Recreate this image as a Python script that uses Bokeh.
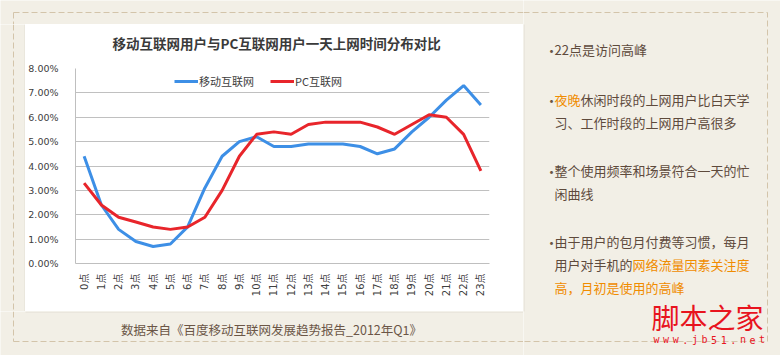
import math
from bokeh.plotting import figure
from bokeh.layouts import row, column
from bokeh.models import (Range1d, FixedTicker, NumeralTickFormatter, Legend, LegendItem)
from bokeh.core.properties import value
from bokeh.embed import file_html
from bokeh.resources import INLINE

# ---------------- data ----------------
hours = ["0点", "1点", "2点", "3点", "4点", "5点", "6点", "7点", "8点", "9点", "10点", "11点",
         "12点", "13点", "14点", "15点", "16点", "17点", "18点", "19点", "20点", "21点", "22点", "23点"]
mobile = [0.044, 0.024, 0.014, 0.009, 0.007, 0.008, 0.015, 0.031, 0.044, 0.050, 0.052, 0.048,
          0.048, 0.049, 0.049, 0.049, 0.048, 0.045, 0.047, 0.054, 0.060, 0.067, 0.073, 0.065]
pc = [0.033, 0.024, 0.019, 0.017, 0.015, 0.014, 0.015, 0.019, 0.030, 0.044, 0.053, 0.054,
      0.053, 0.057, 0.058, 0.058, 0.058, 0.056, 0.053, 0.057, 0.061, 0.060, 0.053, 0.038]
y_ticks = [0.0, 0.01, 0.02, 0.03, 0.04, 0.05, 0.06, 0.07, 0.08]
series_names = ["移动互联网", "PC互联网"]
title_text = "移动互联网用户与PC互联网用户一天上网时间分布对比"
source_text = "数据来自《百度移动互联网发展趋势报告_2012年Q1》"
watermark_text = "脚本之家"
watermark_url = "www.jb51.net"

BROWN = "#5e4a3c"
ORANGE = "#f08c00"
notes = [
    (49, [("22点是访问高峰", BROWN)], True),
    (99, [("夜晚", ORANGE), ("休闲时段的上网用户比白天学", BROWN)], True),
    (122, [("习、工作时段的上网用户高很多", BROWN)], False),
    (170, [("整个使用频率和场景符合一天的忙", BROWN)], True),
    (193, [("闲曲线", BROWN)], False),
    (241, [("由于用户的包月付费等习惯，每月", BROWN)], True),
    (264, [("用户对手机的", BROWN), ("网络流量因素关注度", ORANGE)], False),
    (287, [("高，月初是使用的高峰", ORANGE)], False),
]

CJK = "Noto Sans CJK SC"
BLUE = "#3d8fe6"
RED = "#e8252b"
BEIGE = "#f2efe6"
DASH = "#d3c4aa"
WM_RED = "#e8141e"

pos = list(range(len(hours)))  # category slots


def deco(x0, x1, y0, y1, fill=BEIGE):
    """A plain figure whose frame covers the whole canvas, in page pixel coordinates."""
    f = figure(width=x1 - x0, height=y1 - y0, output_backend="svg", toolbar_location=None,
               x_range=Range1d(x0, x1), y_range=Range1d(start=y1, end=y0),
               x_axis_location=None, y_axis_location=None, title=None)
    f.min_border = 0
    f.min_border_left = 0
    f.min_border_right = 0
    f.min_border_top = 0
    f.min_border_bottom = 0
    f.grid.visible = False
    f.outline_line_color = None
    f.background_fill_color = fill
    f.border_fill_color = fill
    return f


def dashed(f, xs, ys):
    f.line(xs, ys, line_color=DASH, line_width=1, line_dash="6 3")


def txt(f, x, y, s, color, size="13px", align="left", font=CJK, style="normal"):
    f.text(x=[x], y=[y], text=[s], text_color=color, text_font=value(font),
           text_font_size=value(size), text_align=align, text_baseline="middle",
           text_font_style=style)


# ---------------- decoration pieces ----------------
top_left = deco(0, 523, 0, 24)
dashed(top_left, [13, 523], [12, 12])
dashed(top_left, [13, 13], [12, 24])

left_strip = deco(0, 25, 24, 311)
dashed(left_strip, [13, 13], [24, 311])
left_strip.line([24.5, 24.5], [24, 311], line_color="#e2ded4", line_width=1)

title_fig = deco(25, 523, 24, 58, fill="white")
txt(title_fig, 267, 42, title_text, "#3a3a3a", size="13.5px", align="center", style="bold")

bottom_left = deco(0, 523, 311, 355)
dashed(bottom_left, [13, 13], [311, 341])
dashed(bottom_left, [13, 523], [341, 341])
bottom_left.line([25, 523], [311.5, 311.5], line_color="#e2ded4", line_width=1)
txt(bottom_left, 271, 329, source_text, "#6b5646", size="12.5px", align="center")

right_fig = deco(523, 780, 0, 355)
dashed(right_fig, [523, 767, 767, 523], [12, 12, 341, 341])
right_fig.line([523.5, 523.5], [24, 311], line_color="#e2ded4", line_width=1)
for ypos, segs, bullet in notes:
    if bullet:
        txt(right_fig, 544, ypos, "•", "#6b5646", size="14px")
    xpos = 554
    for s, col in segs:
        txt(right_fig, xpos, ypos, s, col)
        xpos += 13 * len(s)
txt(right_fig, 707, 316, watermark_text, WM_RED, size="28px", align="center")
for k, ch in enumerate(watermark_url):
    txt(right_fig, 656 + k * 9.6, 339, ch, WM_RED, size="10px", align="center",
        font="DejaVu Sans Mono")

# ---------------- chart ----------------
p = figure(width=498, height=253, output_backend="svg", toolbar_location=None,
           x_range=Range1d(-0.5, len(hours) - 0.5), y_range=Range1d(0, 0.08), title=None)
p.min_border_left = 48
p.min_border_right = 34
p.min_border_top = 10
p.min_border_bottom = 48
p.border_fill_color = "white"
p.background_fill_color = "white"
p.outline_line_color = None

r1 = p.line(pos, mobile, line_color=BLUE, line_width=3)
r2 = p.line(pos, pc, line_color=RED, line_width=3)

p.yaxis.ticker = FixedTicker(ticks=y_ticks)
p.yaxis.formatter = NumeralTickFormatter(format="0.00%")
p.yaxis.major_tick_line_color = None
p.yaxis.minor_tick_line_color = None
p.yaxis.axis_line_color = "#bfbfbf"
p.yaxis.major_label_standoff = 11
p.yaxis.major_label_text_font = "DejaVu Sans"
p.yaxis.major_label_text_font_size = "9.5px"
p.yaxis.major_label_text_color = "#404040"

p.xaxis.ticker = FixedTicker(ticks=pos)
p.xaxis.major_label_overrides = {i: h for i, h in zip(pos, hours)}
p.xaxis.major_label_orientation = math.pi / 2
p.xaxis.major_tick_line_color = None
p.xaxis.minor_tick_line_color = None
p.xaxis.major_tick_in = 0
p.xaxis.major_tick_out = 0
p.xaxis.axis_line_color = "#bfbfbf"
p.xaxis.major_label_standoff = 10
p.xaxis.major_label_text_font = "DejaVu Sans, Noto Sans CJK SC"
p.xaxis.major_label_text_font_size = "10px"
p.xaxis.major_label_text_color = "#404040"

p.xgrid.grid_line_color = None
p.ygrid.grid_line_color = "#c0c0c0"
p.ygrid.grid_line_width = 1

legend = Legend(items=[LegendItem(label=series_names[0], renderers=[r1]),
                       LegendItem(label=series_names[1], renderers=[r2])],
                orientation="horizontal", location=(97, 172),
                border_line_alpha=0, background_fill_alpha=0,
                label_text_font=CJK, label_text_font_size="11px", label_text_color="#404040",
                glyph_width=24, glyph_height=14, label_standoff=1, spacing=16,
                padding=2, margin=0)
p.add_layout(legend, "center")

# ---------------- layout ----------------
left_col = column(top_left, row(left_strip, column(title_fig, p)), bottom_left)
root = row(left_col, right_fig)

open("out.html", "w").write(file_html(root, INLINE))
